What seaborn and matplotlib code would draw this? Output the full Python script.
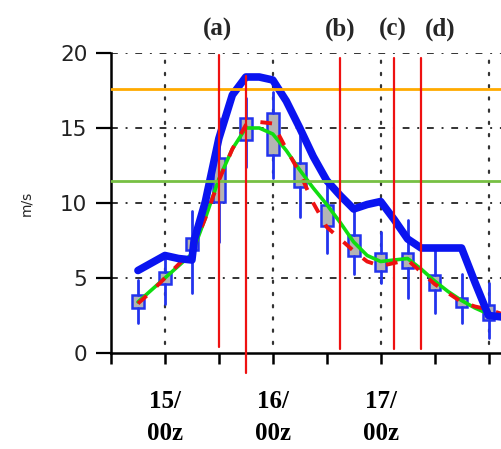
import numpy as np
import pandas as pd
import seaborn as sns
import matplotlib
matplotlib.use("Agg")
import matplotlib.pyplot as plt

# ---------------- data (hours relative to 15/00z) ----------------
box_hours = [-6, 0, 6, 12, 18, 24, 30, 36, 42, 48, 54, 60, 66, 72]
box_lo  = [2.0, 3.3, 4.0, 7.4, 12.4, 11.7, 9.1, 6.7, 5.3, 4.7, 3.7, 2.7, 2.0, 1.0]
box_q1  = [3.0, 4.6, 6.9, 10.1, 14.2, 13.2, 11.1, 8.5, 6.5, 5.5, 5.7, 4.2, 3.1, 2.2]
box_med = [3.4, 5.0, 7.2, 11.5, 15.0, 14.5, 11.8, 9.2, 7.2, 6.1, 6.2, 4.7, 3.4, 2.6]
box_q3  = [3.9, 5.4, 7.7, 13.0, 15.7, 16.0, 12.7, 9.9, 7.9, 6.7, 6.7, 5.2, 3.7, 3.2]
box_hi  = [4.9, 6.5, 9.5, 15.7, 17.0, 17.4, 14.5, 11.2, 9.5, 8.1, 8.9, 6.9, 5.3, 4.7]

blue_hours = [-6, -3, 0, 3, 6, 6.5, 9, 12, 15, 18, 21, 24, 27, 30, 33, 36, 39,
              42, 45, 48, 51, 54, 57, 60, 63, 66, 69, 72, 75]
blue_vals = [5.5, 6.0, 6.5, 6.3, 6.2, 7.5, 10.1, 14.3, 17.2, 18.4, 18.4, 18.2,
             16.8, 15.0, 13.1, 11.5, 10.5, 9.6, 9.9, 10.1, 8.9, 7.6, 7.0, 7.0,
             7.0, 7.0, 4.7, 2.5, 2.4]

green_hours = [-6, -3, 0, 3, 6, 9, 12, 15, 18, 21, 24, 27, 30, 33, 36, 39, 42,
               45, 48, 51, 54, 57, 60, 63, 66, 69, 72]
green_vals = [3.4, 4.2, 5.0, 5.8, 6.6, 9.0, 11.6, 13.6, 15.0, 15.0, 14.6, 13.5,
              12.2, 11.0, 9.9, 8.7, 7.4, 6.5, 6.1, 6.2, 6.3, 5.6, 4.8, 4.1, 3.5,
              3.0, 2.6]

red_hours = [-6, -3, 0, 3, 6, 9, 12, 15, 18, 21, 24, 27, 30, 33, 36, 39, 42,
             45, 48, 51, 54, 57, 60, 63, 66, 69, 72, 75]
red_vals = [3.3, 4.1, 5.0, 5.9, 6.8, 9.0, 11.5, 13.6, 15.2, 15.4, 15.3, 13.6,
            12.0, 10.0, 8.4, 7.6, 6.8, 6.1, 5.8, 6.0, 6.2, 5.4, 4.6, 4.0, 3.4,
            3.1, 2.9, 2.6]

threshold_vals = [17.6, 11.5]

event_hours = [12, 18, 39, 51, 57]
event_lo = [0.4, -1.3, 0.3, 0.3, 0.3]
event_hi = [19.9, 18.5, 19.7, 19.7, 19.7]

label_text = ["(a)", "(b)", "(c)", "(d)"]
label_hours = [11.8, 39.1, 50.7, 61.3]

day_ticks = [0, 24, 48]
day_labels = ["15/\n00z", "16/\n00z", "17/\n00z"]

# ---------------- figure ----------------
sns.set_style("white")
plt.rcParams['font.family'] = ['DejaVu Sans']

fig = plt.figure(figsize=(5.02, 4.49), dpi=100)
ax = fig.add_axes([111/502, 1 - 353/449, 1 - 111/502, 300/449])
ax.set_xlim(-12, 75)
ax.set_ylim(0, 20)

# grid
for yv in [5, 10, 15, 20]:
    ax.axhline(yv, color="#333333", lw=1.4, dashes=(3.5, 4, 1, 4), zorder=1)
for xv in [0, 24, 48, 72]:
    ax.plot([xv, xv], [0.6, 19.6], color="#333333", lw=1.6, dashes=(1, 4.5),
            zorder=1, solid_capstyle="round", dash_capstyle="round")

# boxes
stats = []
for lo, q1, med, q3, hi in zip(box_lo, box_q1, box_med, box_q3, box_hi):
    stats.append(dict(whislo=lo, q1=q1, med=med, q3=q3, whishi=hi, fliers=[]))
ax.bxp(stats, positions=box_hours, widths=2.6, patch_artist=True,
       showcaps=False, showfliers=False, manage_ticks=False,
       boxprops=dict(facecolor="#b4b4b4", edgecolor="#2233ee", linewidth=1.8),
       whiskerprops=dict(color="#2233ee", linewidth=2.0),
       medianprops=dict(linewidth=0), zorder=3)

# lines
df_green = pd.DataFrame({"h": green_hours, "v": green_vals})
df_red = pd.DataFrame({"h": red_hours, "v": red_vals})
df_blue = pd.DataFrame({"h": blue_hours, "v": blue_vals})
sns.lineplot(data=df_green, x="h", y="v", ax=ax, color="#11dd11", lw=2.6,
             zorder=4, estimator=None, sort=False)
sns.lineplot(data=df_red, x="h", y="v", ax=ax, color="#ee1111", lw=2.8,
             dashes=False, zorder=5, estimator=None, sort=False)
ax.lines[-1].set_dashes((3, 3.5))
sns.lineplot(data=df_blue, x="h", y="v", ax=ax, color="#0a14f0", lw=5.5,
             zorder=6, estimator=None, sort=False)

# thresholds
ax.axhline(threshold_vals[0], color="#ffaa00", lw=2.0, zorder=7)
ax.axhline(threshold_vals[1], color="#77c043", lw=2.0, zorder=7)

# event lines
for xh, lo, hi in zip(event_hours, event_lo, event_hi):
    ax.plot([xh, xh], [lo, hi], color="#ee1111", lw=1.6, zorder=8, clip_on=False)

for t, xh in zip(label_text, label_hours):
    ax.text(xh, 21.6, t, ha="center", va="center", fontsize=18,
            fontweight="bold", family="Liberation Serif")

# axes styling
for s in ["top", "right"]:
    ax.spines[s].set_visible(False)
ax.spines["left"].set_linewidth(1.8)
ax.spines["bottom"].set_linewidth(1.8)
ax.spines["left"].set_color("black")
ax.spines["bottom"].set_color("black")

ax.set_yticks([0, 5, 10, 15, 20])
ax.set_yticklabels(["0", "5", "10", "15", "20"])
ax.tick_params(axis="y", direction="out", length=11, width=1.6, pad=6,
               labelsize=15.5, left=True, colors="black")
for lab in ax.get_yticklabels():
    lab.set_color("#222222")

xt = list(range(-12, 73, 12))
ax.set_xticks(xt)
ax.set_xticklabels(["" if t not in day_ticks else day_labels[day_ticks.index(t)] for t in xt],
                   fontsize=18, fontweight="bold", family="Liberation Serif",
                   linespacing=1.45)
ax.tick_params(axis="x", direction="out", length=8, width=1.8, pad=19,
               bottom=True, colors="black")

ax.set_xlabel("")
ax.set_ylabel("m/s", fontsize=10)
ax.yaxis.set_label_coords(-0.2, 0.5)

fig.savefig("out.png", dpi=100)
